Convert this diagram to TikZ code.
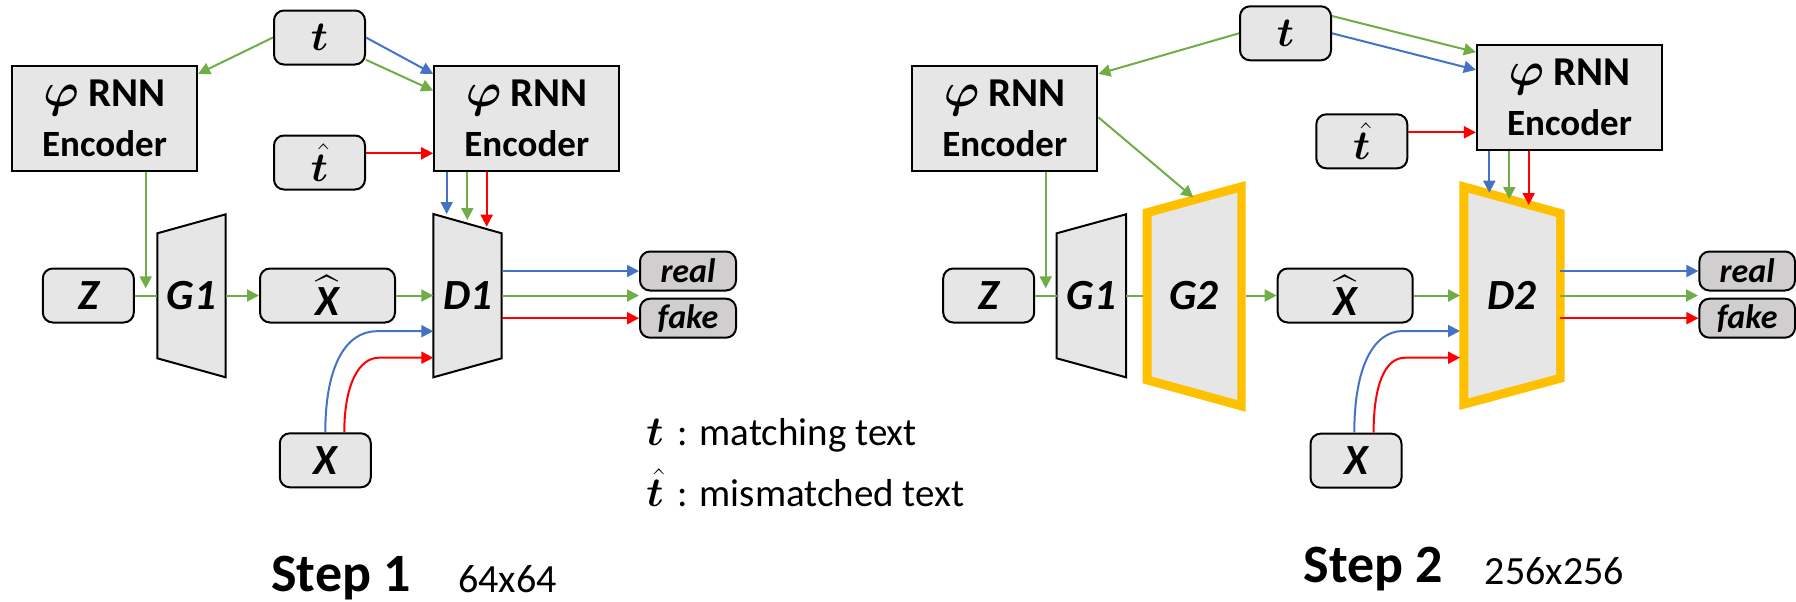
\documentclass[tikz,border=0pt]{standalone}
\usepackage{fontspec}
\setmainfont{Carlito}
\usepackage{amsmath}
\usepackage{bm}
\usepackage{graphicx}
\usetikzlibrary{arrows.meta}
\definecolor{cgreen}{HTML}{70AD47}
\definecolor{cblue}{HTML}{4472C4}
\definecolor{cred}{HTML}{FF0000}
\definecolor{cgold}{HTML}{FFC000}
\definecolor{boxfill}{HTML}{E6E6E6}
\definecolor{outfill}{HTML}{D0CECE}
\newcommand{\phisym}{\scalebox{1.15}{$\bm{\varphi}$}}
\newcommand{\enclabel}{{\fontsize{20.5}{25.3}\selectfont\phisym\ RNN}\\Encoder}
\tikzset{
  rbox/.style={draw=black, line width=1pt, rounded corners=5pt, fill=boxfill, inner sep=0pt,
    font=\fontsize{21.5}{24}\selectfont\bfseries\itshape},
  tbox/.style={rbox, minimum width=45.5pt, minimum height=27pt, font=\fontsize{22.5}{24}\selectfont},
  zbox/.style={rbox, minimum width=45.5pt, minimum height=27pt},
  xhbox/.style={rbox, minimum width=67.5pt, minimum height=27pt},
  obox/.style={rbox, fill=outfill, minimum width=48pt, minimum height=19.5pt,
    font=\fontsize{17}{19}\selectfont\bfseries\itshape},
  encbox/.style={draw=black, line width=1.1pt, fill=boxfill, minimum width=92.5pt, minimum height=52.5pt,
    align=center, inner sep=0pt, font=\fontsize{18.5}{25.3}\selectfont\bfseries},
  trap/.style={draw=black, line width=1pt, fill=boxfill, line join=miter},
  goldout/.style={fill=cgold},
  goldin/.style={fill=boxfill},
  lbl/.style={inner sep=0pt, font=\fontsize{21.5}{24}\selectfont\bfseries\itshape},
  con/.style={line width=1pt},
  tip/.style={-{Triangle[length=6pt,width=6pt]}},
  ga/.style={con, draw=cgreen, tip, color=cgreen},
  ba/.style={con, draw=cblue, tip, color=cblue},
  ra/.style={con, draw=cred, tip, color=cred},
  gl/.style={con, draw=cgreen},
  legend/.style={anchor=base west, inner sep=0pt, font=\fontsize{19.5}{22}\selectfont},
  steptxt/.style={anchor=base west, inner sep=0pt, font=\fontsize{27}{30}\selectfont\bfseries},
  restxt/.style={anchor=base west, inner sep=0pt, font=\fontsize{20}{24}\selectfont}
}
\begin{document}
\begin{tikzpicture}[x=0.5pt,y=-0.5pt]
\useasboundingbox (0,0) rectangle (1796,601);

% ================= Step 1 =================
\node[tbox] (t1) at (319.5,37.5) {$\bm{t}$};
\node[tbox] (th1) at (319.5,162.5) {$\hat{\bm{t}}$};
\node[encbox] (encL1) at (104.5,118.2) {\enclabel};
\node[encbox] (encR1) at (526.8,118.5) {\enclabel};
\node[zbox] (Z1) at (88.3,295.5) {Z};
\node[xhbox] (Xh1) at (327.5,295.5) {$\widehat{\text{X}}$};
\node[zbox] (X1) at (325.3,460.3) {X};
\node[obox] (real1) at (688,271) {real};
\node[obox] (fake1) at (688,318.2) {fake};

\draw[trap] (157.3,233.3) -- (225.7,214.3) -- (225.7,377.3) -- (157.3,358.3) -- cycle;
\node[lbl] (G1a) at (191.5,295.5) {G1};
\draw[trap] (433.3,214) -- (501.7,233.3) -- (501.7,358.3) -- (433.3,377.3) -- cycle;
\node[lbl] (D1a) at (467.5,295.5) {D1};

\coordinate (G1in) at (157.3,295.5);
\coordinate (G1out) at (225.7,295.5);
\coordinate (D1in) at (433.3,295.5);
\coordinate (D1out) at (501.7,295.5);
\coordinate (j1) at (145.7,288.3);
\coordinate (D1tb) at (446.7,214);
\coordinate (D1tg) at (467.3,220);
\coordinate (D1tr) at (486.7,226.7);
\coordinate (D1xb) at (433.3,331.2);
\coordinate (D1xr) at (433.3,357.7);
\coordinate (c1b) at (377,331.2);
\coordinate (c1r) at (379,357.7);
\coordinate (gt1) at (639,295.5);

\draw[ga] (t1.west) -- ([yshift=-4.65pt]encL1.north east);
\draw[ba] (t1.east) -- ([yshift=-4.5pt]encR1.north west);
\draw[ga] ([yshift=2.85pt]t1.south east) -- ([yshift=-12.85pt]encR1.north west);
\draw[ra] ([yshift=4.6pt]th1.east) -- ([yshift=4.6pt]th1.east -| encR1.west);
\draw[ba] (encR1.south -| D1tb) -- (D1tb);
\draw[ga] (encR1.south -| D1tg) -- (D1tg);
\draw[ra] (encR1.south -| D1tr) -- (D1tr);
\draw[ga] (encL1.south -| j1) -- (j1);
\draw[gl] (Z1.east) -- (G1in);
\draw[ga] (G1out) -- (Xh1.west);
\draw[ga] (Xh1.east) -- (D1in);
\draw[ba] (D1out |- real1.west) -- (real1.west);
\draw[ga] (D1out) -- (gt1);
\draw[ra] (D1out |- fake1.west) -- (fake1.west);
\draw[ba] (X1.north) .. controls +(0,-65) and +(-32,0) .. (c1b) -- (D1xb);
\draw[ra] ([xshift=9.5pt]X1.north) .. controls +(0,-48) and +(-20,0) .. (c1r) -- (D1xr);

% ================= Step 2 =================
\node[tbox] (t2) at (1285.5,33.3) {$\bm{t}$};
\node[tbox] (th2) at (1361.8,141.3) {$\hat{\bm{t}}$};
\node[encbox] (encL2) at (1004.8,118.2) {\enclabel};
\node[encbox] (encR2) at (1569.5,97.5) {\enclabel};
\node[zbox] (Z2) at (988.7,295.5) {Z};
\node[xhbox] (Xh2) at (1345.2,295.5) {$\widehat{\text{X}}$};
\node[zbox] (X2) at (1356,460.7) {X};
\node[obox, minimum width=47.8pt] (real2) at (1747.2,271) {real};
\node[obox, minimum width=47.8pt] (fake2) at (1747.2,318.2) {fake};

\draw[trap] (1056.7,233.3) -- (1126,214.3) -- (1126,377.3) -- (1056.7,358.3) -- cycle;
\node[lbl] (G1b) at (1091.3,295.5) {G1};
\fill[goldout] (1142.7,209.3) -- (1245.7,181) -- (1245.7,411.7) -- (1142.7,383.3) -- cycle;
\fill[goldin] (1151.7,216.1) -- (1237.3,192.6) -- (1237.3,400) -- (1151.7,376.5) -- cycle;
\node[lbl] (G2a) at (1194,295.5) {G2};
\fill[goldout] (1459.3,181) -- (1564.7,210) -- (1564.7,381.7) -- (1459.3,410) -- cycle;
\fill[goldin] (1468.3,192.8) -- (1556,216.9) -- (1556,374.7) -- (1468.3,398.3) -- cycle;
\node[lbl] (D2a) at (1512,295.5) {D2};

\coordinate (j2) at (1045.7,288.3);
\coordinate (G1bin) at (1056.7,295.5);
\coordinate (G1bout) at (1126,295.5);
\coordinate (G2in) at (1142.7,295.5);
\coordinate (G2out) at (1245.7,295.5);
\coordinate (G2top) at (1193.3,197.5);
\coordinate (D2in) at (1460,295.5);
\coordinate (D2out) at (1560.3,295.5);
\coordinate (gt2) at (1698,295.5);
\coordinate (D2tb) at (1489.3,192.7);
\coordinate (D2tg) at (1509.3,199);
\coordinate (D2tr) at (1528.7,205);
\coordinate (D2xb) at (1460,331);
\coordinate (D2xr) at (1460,357.7);
\coordinate (c2b) at (1403,331);
\coordinate (c2r) at (1405,357.7);

\draw[ga] (t2.west) -- ([yshift=-4.65pt]encL2.north east);
\draw[ga] ([yshift=8.65pt]t2.east) -- ([yshift=-4.15pt]encR2.north west);
\draw[ba] (t2.east) -- ([yshift=-13pt]encR2.north west);
\draw[ra] ([yshift=4.5pt]th2.east) -- ([yshift=4.5pt]th2.east -| encR2.west);
\draw[ga] ([yshift=0.45pt]encL2.east) -- (G2top);
\draw[ga] (encL2.south -| j2) -- (j2);
\draw[gl] (Z2.east) -- (G1bin);
\draw[gl] (G1bout) -- (G2in);
\draw[ga] (G2out) -- (Xh2.west);
\draw[ga] (Xh2.east) -- (D2in);
\draw[ba] (encR2.south -| D2tb) -- (D2tb);
\draw[ga] (encR2.south -| D2tg) -- (D2tg);
\draw[ra] (encR2.south -| D2tr) -- (D2tr);
\draw[ba] (D2out |- real2.west) -- (real2.west);
\draw[ga] (D2out) -- (gt2);
\draw[ra] (D2out |- fake2.west) -- (fake2.west);
\draw[ba] ([xshift=-0.85pt]X2.north) .. controls +(0,-65) and +(-30,0) .. (c2b) -- (D2xb);
\draw[ra] ([xshift=8.8pt]X2.north) .. controls +(0,-48) and +(-20,0) .. (c2r) -- (D2xr);

% ================= legend and captions =================
\node[legend] (leg1) at (646,445) {$\bm{t}$\hspace{7pt}: matching text};
\node[legend] (leg2) at (646,506) {$\hat{\bm{t}}$\hspace{7pt}: mismatched text};
\node[steptxt] (s1) at (271,591) {Step 1};
\node[restxt] (r1) at (458,592) {64x64};
\node[steptxt] (s2) at (1303.5,582) {Step 2};
\node[restxt] (r2) at (1484.5,584) {256x256};
\end{tikzpicture}
\end{document}
